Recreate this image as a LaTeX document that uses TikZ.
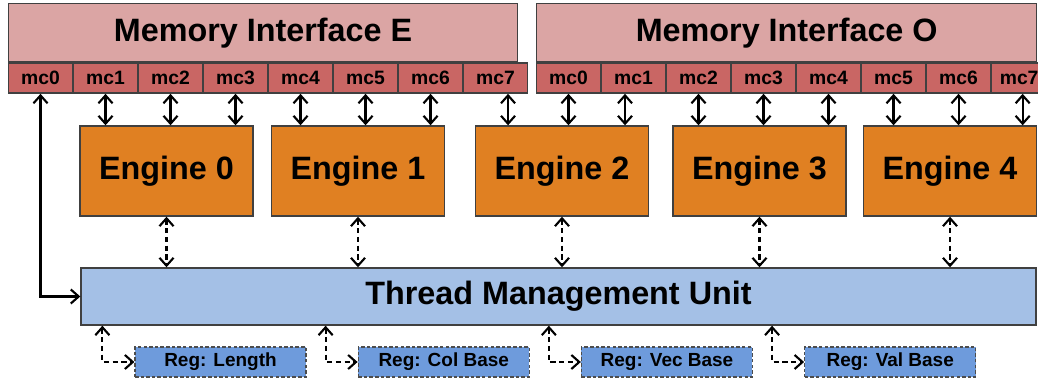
\documentclass[tikz,border=0pt]{standalone}
\usepackage{fontspec}
\setmainfont{Liberation Sans}
\usetikzlibrary{positioning,arrows.meta,calc}
\definecolor{memband}{RGB}{219,165,164}
\definecolor{mcred}{RGB}{201,102,100}
\definecolor{engorange}{RGB}{224,128,34}
\definecolor{tmublue}{RGB}{164,192,230}
\definecolor{regblue}{RGB}{110,155,220}

\begin{document}
\begin{tikzpicture}[
    >={Straight Barb[length=4.5pt,width=8pt]},
    mem/.style={rectangle, draw=black!75, line width=0.8pt, fill=memband, minimum height=1.16cm, inner sep=0pt, font=\fontsize{18.4}{22}\selectfont\bfseries},
    mc/.style={rectangle, draw=black!75, line width=0.8pt, fill=mcred, minimum width=1.272cm, minimum height=0.6cm, inner sep=0pt, font=\fontsize{11}{13}\selectfont\bfseries},
    engine/.style={rectangle, draw=black!75, line width=0.8pt, fill=engorange, minimum width=3.46cm, minimum height=1.8cm, font=\fontsize{18.4}{22}\selectfont\bfseries},
    tmu/.style={rectangle, draw=black!75, line width=0.8pt, fill=tmublue, minimum width=19.1cm, minimum height=1.14cm, font=\fontsize{18.4}{22}\selectfont\bfseries},
    reg/.style={rectangle, draw=black!70, dash pattern=on 2pt off 1.2pt, line width=0.7pt, fill=regblue, minimum width=3.42cm, minimum height=0.6cm, inner sep=0pt, font=\fontsize{10.8}{13}\selectfont\bfseries},
    chan/.style={<->, line width=1.2pt, black},
    ctl/.style={<->, line width=1.2pt, black, dash pattern=on 3pt off 2pt}
]
\useasboundingbox (0,0) rectangle (20.76,7.62);

% Memory interfaces
\node[mem, minimum width=10.176cm, anchor=north west] (memE) at (0.16,7.56) {Memory Interface E};
\node[mem, minimum width=10cm, anchor=north west] (memO) at (10.72,7.56) {Memory Interface O};

% Memory channels
\node[mc, anchor=north west] (mcE0) at (memE.south west) {mc0};
\foreach \i [remember=\i as \j (initially 0)] in {1,...,7}
    \node[mc, right=0pt of mcE\j] (mcE\i) {mc\i};
\node[mc, anchor=north west] (mcO0) at (memO.south west) {mc0};
\foreach \i [remember=\i as \j (initially 0)] in {1,...,6}
    \node[mc, right=0pt of mcO\j] (mcO\i) {mc\i};
\node[mc, minimum width=1.096cm, right=0pt of mcO6] (mcO7) {mc7};

% Engines
\node[engine] (eng0) at (3.33,4.2) {Engine 0};
\node[engine] (eng1) at (7.16,4.2) {Engine 1};
\node[engine] (eng2) at (11.24,4.2) {Engine 2};
\node[engine] (eng3) at (15.19,4.2) {Engine 3};
\node[engine] (eng4) at (19.0,4.2) {Engine 4};

% Thread management unit and its registers
\node[tmu] (tmu) at (11.17,1.69) {Thread Management Unit};
\node[reg] (regLen) at (4.41,0.38) {Reg: Length};
\node[reg, right=1.02cm of regLen] (regCol) {Reg: Col Base};
\node[reg, right=1.02cm of regCol] (regVec) {Reg: Vec Base};
\node[reg, right=1.02cm of regVec] (regVal) {Reg: Val Base};

% Channels to engines
\foreach \m/\e in {1/0,2/0,3/0,4/1,5/1,6/1}
    \draw[chan] (mcE\m.south) -- (mcE\m.south |- eng\e.north);
\draw[chan] ([xshift=0.25cm]mcE7.south) -- ([xshift=0.25cm]mcE7.south |- eng2.north);
\draw[chan] (mcO0.south) -- (mcO0.south |- eng2.north);
\draw[chan] ([xshift=-0.17cm]mcO1.south) -- ([xshift=-0.17cm]mcO1.south |- eng2.north);
\foreach \m/\e in {2/3,3/3,4/3,5/4,6/4}
    \draw[chan] (mcO\m.south) -- (mcO\m.south |- eng\e.north);
\draw[chan] ([xshift=0.07cm]mcO7.south) -- ([xshift=0.07cm]mcO7.south |- eng4.north);
\draw[chan] (mcE0.south) |- (tmu.west);

% Engines to TMU
\foreach \e in {0,...,4}
    \draw[ctl] (eng\e.south) -- (eng\e.south |- tmu.north);

% Registers
\foreach \r in {regLen,regCol,regVec,regVal}
    \draw[ctl] ([xshift=-0.64cm]\r.west |- tmu.south) |- (\r.west);

\end{tikzpicture}
\end{document}
